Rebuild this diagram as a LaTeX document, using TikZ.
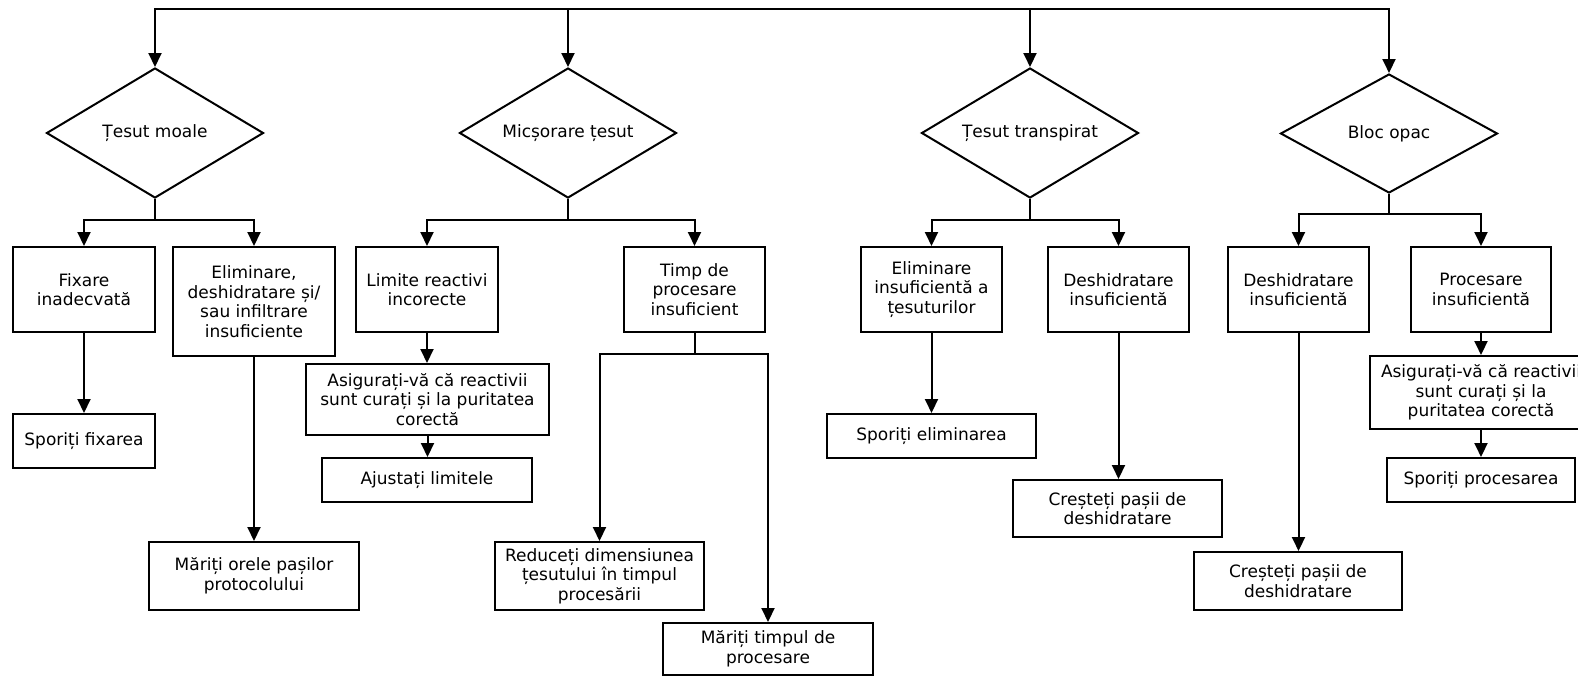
\documentclass[tikz,border=0pt]{standalone}
\usepackage{fontspec}
\setmainfont{DejaVu Sans}
\usetikzlibrary{shapes.geometric,arrows.meta,calc}

\begin{document}
\begin{tikzpicture}[x=1pt,y=-1pt,
    every node/.style={font=\fontsize{17}{19.5}\selectfont, align=center, inner sep=0pt},
    dia/.style={draw, diamond, aspect=1.67, minimum width=217, minimum height=130, line width=2pt},
    box/.style={draw, rectangle, line width=2pt},
    arr/.style={-{Triangle[length=14pt,width=13pt]}, line width=2pt}]
    \useasboundingbox (0,0) rectangle (1578,675);
    \clip (0,0) rectangle (1578,675);

    \node (d1) at (155,133) [dia] {Țesut moale};
    \node (d2) at (568,133) [dia] {Micșorare țesut};
    \node (d3) at (1030,133) [dia] {Țesut transpirat};
    \node (d4) at (1389,133.5) [dia, minimum height=119] {Bloc opac};

    \node (b11) at (84,289.5) [box, minimum width=142, minimum height=85] {Fixare\\inadecvată};
    \node (b12) at (254,301.5) [box, minimum width=162, minimum height=109] {Eliminare,\\deshidratare și/\\sau infiltrare\\insuficiente};
    \node (b21) at (427,289.5) [box, minimum width=142, minimum height=85] {Limite reactivi\\incorecte};
    \node (b22) at (694.5,289.5) [box, minimum width=141, minimum height=85] {Timp de\\procesare\\insuficient};
    \node (b31) at (931.5,289.5) [box, minimum width=141, minimum height=85] {Eliminare\\insuficientă a\\țesuturilor};
    \node (b32) at (1118.5,289.5) [box, minimum width=141, minimum height=85] {Deshidratare\\insuficientă};
    \node (b41) at (1298.5,289.5) [box, minimum width=141, minimum height=85] {Deshidratare\\insuficientă};
    \node (b42) at (1481,289.5) [box, minimum width=140, minimum height=85] {Procesare\\insuficientă};

    \node (c11) at (84,441) [box, minimum width=142, minimum height=54] {Sporiți fixarea};
    \node (c12) at (254,576) [box, minimum width=210, minimum height=68] {Măriți orele pașilor\\protocolului};
    \node (c21) at (427.5,399.5) [box, minimum width=243, minimum height=71] {Asigurați-vă că reactivii\\sunt curați și la puritatea\\corectă};
    \node (c22) at (427,480) [box, minimum width=210, minimum height=44] {Ajustați limitele};
    \node (c23) at (599.5,576) [box, minimum width=209, minimum height=68] {Reduceți dimensiunea\\țesutului în timpul\\procesării};
    \node (c24) at (768,649) [box, minimum width=210, minimum height=52] {Măriți timpul de\\procesare};
    \node (c31) at (931.5,436) [box, minimum width=209, minimum height=44] {Sporiți eliminarea};
    \node (c32) at (1117.5,508.5) [box, minimum width=209, minimum height=57] {Creșteți pașii de\\deshidratare};
    \node (c41) at (1298,581) [box, minimum width=208, minimum height=58] {Creșteți pașii de\\deshidratare};
    \node (c42) at (1481,392.5) [box, minimum width=222, minimum height=73] {Asigurați-vă că reactivii\\sunt curați și la\\puritatea corectă};
    \node (c43) at (1481,480) [box, minimum width=188, minimum height=44] {Sporiți procesarea};

    \coordinate (bus) at (568,9);
    \draw [arr] (bus) -| (d1.north);
    \draw [arr] (bus) -- (d2.north);
    \draw [arr] (bus) -| (d4.north);
    \draw [arr] (bus -| d3.north) -- (d3.north);

    \draw [arr] (d1.south) -- ($(d1.south)+(0,21)$) -| (b11.north);
    \draw [arr] (d1.south) -- ($(d1.south)+(0,21)$) -| (b12.north);
    \draw [arr] (d2.south) -- ($(d2.south)+(0,21)$) -| (b21.north);
    \draw [arr] (d2.south) -- ($(d2.south)+(0,21)$) -| (b22.north);
    \draw [arr] (d3.south) -- ($(d3.south)+(0,21)$) -| (b31.north);
    \draw [arr] (d3.south) -- ($(d3.south)+(0,21)$) -| (b32.north);
    \draw [arr] (d4.south) -- ($(d4.south)+(0,20)$) -| (b41.north);
    \draw [arr] (d4.south) -- ($(d4.south)+(0,20)$) -| (b42.north);

    \draw [arr] (b11.south) -- (b11.south |- c11.north);
    \draw [arr] (b12.south) -- (b12.south |- c12.north);
    \draw [arr] (b21.south) -- (b21.south |- c21.north);
    \draw [arr] (c21.south) -- (c21.south |- c22.north);
    \draw [arr] (b22.south) -- ($(b22.south)+(0,21)$) -| (c23.north);
    \draw [arr] (b22.south) -- ($(b22.south)+(0,21)$) -| (c24.north);
    \draw [arr] (b31.south) -- (b31.south |- c31.north);
    \draw [arr] (b32.south) -- (b32.south |- c32.north);
    \draw [arr] (b41.south) -- (b41.south |- c41.north);
    \draw [arr] (b42.south) -- (b42.south |- c42.north);
    \draw [arr] (c42.south) -- (c42.south |- c43.north);
\end{tikzpicture}
\end{document}
